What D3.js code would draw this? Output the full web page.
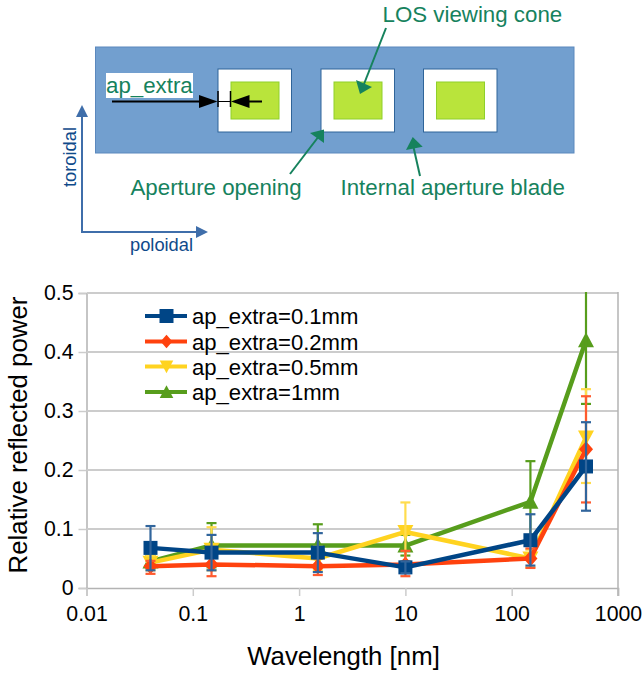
<!DOCTYPE html>
<html><head><meta charset="utf-8">
<script src="https://cdn.jsdelivr.net/npm/d3@7/dist/d3.min.js"></script>
<style>html,body{margin:0;background:#fff}svg{display:block}text{font-family:"Liberation Sans",Arial,sans-serif}</style>
</head><body><svg id="c" width="644" height="675"></svg>
<script>
const wavelengths=[0.04,0.15,1.5,10,150,500];
const names=["ap_extra=0.1mm","ap_extra=0.2mm","ap_extra=0.5mm","ap_extra=1mm"];
const colors=["#004586","#ff420e","#ffd320","#579d1c"];
const errColors=["#31659c","#ff5a2e","#ffdc4d","#579d1c"];
const symbols=["square","diamond","down","up"];
const v01=[0.068,0.060,0.060,0.035,0.081,0.206];
const v02=[0.037,0.040,0.037,0.040,0.050,0.235];
const v05=[0.043,0.065,0.050,0.095,0.050,0.255];
const v1=[0.045,0.072,0.072,0.072,0.146,0.420];
const hi01=[0.105,0.090,0.093,0.045,0.125,0.281];
const lo01=[0.030,0.030,0.027,0.025,0.038,0.131];
const hi02=[0.046,0.055,0.050,0.063,0.067,0.325];
const lo02=[0.024,0.020,0.022,0.020,0.034,0.145];
const hi05=[0.055,0.103,0.070,0.145,0.065,0.337];
const lo05=[0.030,0.030,0.030,0.045,0.035,0.178];
const hi1=[0.055,0.110,0.108,0.090,0.215,0.600];
const lo1=[0.035,0.035,0.036,0.055,0.077,0.312];
const xTicks=[0.01,0.1,1,10,100,1000];
const yTicks=[0,0.1,0.2,0.3,0.4,0.5];
const xTitle="Wavelength [nm]", yTitle="Relative reflected power";

const svg=d3.select("#c");
const teal="#16825d", navy="#0f4a8a", steel="#3f6eaa";

// ---- schematic ----
const g=svg.append("g");
g.append("rect").attr("x",95.5).attr("y",47).attr("width",478.5).attr("height",106)
 .attr("fill","#729fcf").attr("stroke","#5b88bd").attr("stroke-width",1);
[218,321,423.5].forEach(x=>{
  g.append("rect").attr("x",x).attr("y",69).attr("width",73.5).attr("height",63)
   .attr("fill","#fff").attr("stroke","#2f6499").attr("stroke-width",1);
  g.append("rect").attr("x",x+13).attr("y",82).attr("width",48).attr("height",37)
   .attr("fill","#b9e43b").attr("stroke","#8fd02b").attr("stroke-width",1);
});
g.append("rect").attr("x",106).attr("y",73).attr("width",87).attr("height",25).attr("fill","#fff");
const label=(t,x,y,fs,c)=>g.append("text").text(t).attr("x",x).attr("y",y).attr("font-size",fs).attr("fill",c);
label("ap_extra",106,93,22.3,teal);
label("LOS viewing cone",382.5,22,22.3,teal);
label("Aperture opening",130.5,195,22.3,teal);
label("Internal aperture blade",340.5,195,22.3,teal);
label("poloidal",130,251,18.3,navy);
g.append("text").text("toroidal").attr("transform","translate(76,187) rotate(-90)").attr("font-size",18.3).attr("fill",navy);
const ln=(x1,y1,x2,y2,c,w)=>g.append("line").attr("x1",x1).attr("y1",y1).attr("x2",x2).attr("y2",y2).attr("stroke",c).attr("stroke-width",w);
const tri=(p,c)=>g.append("polygon").attr("points",p).attr("fill",c);
ln(112,101.5,205,101.5,"#000",2); tri("199,95 217.5,101.5 199,108","#000");
ln(218,91,218,107,"#000",1.5); ln(230.5,91,230.5,107,"#000",1.5);
ln(218,101.5,231,101.5,"#000",1);
ln(240,101.5,262,101.5,"#000",2); tri("231,101.5 249.5,95 249.5,108","#000");
ln(82,232,82,112,steel,2); tri("76,117 82,105 88,117",steel);
ln(81,232,200,232,steel,2); tri("196,226 208,232 196,238",steel);
ln(290,174,319,136,teal,2); tri("324,129.5 310,133 324,143",teal);
ln(386,28,364,84,teal,2); tri("356,80 372,87 360,94",teal);
ln(420,176,413,145,teal,2); tri("412.7,137 406,150 422.7,146.7",teal);

// ---- chart ----
const x=d3.scaleLog().domain([0.01,1000]).range([86.5,618]);
const y=d3.scaleLinear().domain([0,0.5]).range([588,293]);
const gridC="#cccccc", axisC="#b3b3b3";
const yAxis=svg.append("g").attr("transform","translate(86.5,0)")
  .call(d3.axisLeft(y).tickValues(yTicks).tickSize(8).tickPadding(5).tickFormat(d3.format(".1~f")));
const xAxis=svg.append("g").attr("transform","translate(0,588)")
  .call(d3.axisBottom(x).tickValues(xTicks).tickSize(8).tickPadding(10).tickFormat(d=>String(d)));
[yAxis,xAxis].forEach(a=>{a.selectAll("path").attr("stroke",axisC).attr("stroke-width",1.5);
  a.selectAll("line").attr("stroke",gridC).attr("stroke-width",1.5);
  a.selectAll("text").attr("font-size",21.3).attr("fill","#000").style("font-family",'"Liberation Sans"');});
svg.append("g").selectAll("line").data(yTicks.filter(d=>d>0)).join("line")
  .attr("x1",87).attr("x2",618).attr("y1",d=>y(d)).attr("y2",d=>y(d)).attr("stroke",gridC).attr("stroke-width",2);
svg.append("line").attr("x1",618).attr("x2",618).attr("y1",292).attr("y2",596).attr("stroke",axisC).attr("stroke-width",1.5);
svg.append("defs").append("clipPath").attr("id","pc").append("rect").attr("x",86).attr("y",292).attr("width",533).attr("height",310);

svg.append("text").text(xTitle).attr("x",343.5).attr("y",665).attr("text-anchor","middle").attr("font-size",25.8);
svg.append("text").text(yTitle).attr("transform","translate(27,435) rotate(-90)").attr("text-anchor","middle").attr("font-size",25.8);

const marker=(sel,kind,c,k=1)=>{
  const p={square:"M-7,-7H7V7H-7Z",diamond:"M0,-8L7,0L0,8L-7,0Z",down:"M-8,-7H8L0,8Z",up:"M-8,7H8L0,-8Z"}[kind];
  sel.append("path").attr("d",p).attr("fill",c).attr("transform",`scale(${k})`);
};
const series=[
 {i:3,v:v1,hi:hi1,lo:lo1},{i:2,v:v05,hi:hi05,lo:lo05},{i:1,v:v02,hi:hi02,lo:lo02},{i:0,v:v01,hi:hi01,lo:lo01}];
const line=d3.line().x((d,i)=>x(wavelengths[i])).y(d=>y(d));
series.forEach(s=>{
  const c=colors[s.i], e=errColors[s.i];
  const sg=svg.append("g");
  sg.append("path").attr("d",line(s.v)).attr("fill","none").attr("stroke",c).attr("stroke-width",4.5).attr("stroke-linejoin","round");
  wavelengths.forEach((w,i)=>marker(sg.append("g").attr("transform",`translate(${x(w)},${y(s.v[i])})`),symbols[s.i],c));
  const eg=sg.append("g").attr("clip-path","url(#pc)").attr("stroke",e).attr("stroke-width",2.2);
  wavelengths.forEach((w,i)=>{
    const X=x(w);
    eg.append("line").attr("x1",X).attr("x2",X).attr("y1",y(s.hi[i])).attr("y2",y(s.lo[i]));
    [s.hi[i],s.lo[i]].forEach(val=>eg.append("line").attr("x1",X-5).attr("x2",X+5).attr("y1",y(val)).attr("y2",y(val)));
  });
});

// ---- legend ----
const legY=[316,341.5,366.5,392];
names.forEach((n,i)=>{
  const lg=svg.append("g").attr("transform",`translate(0,${legY[i]})`);
  lg.append("line").attr("x1",145).attr("x2",187).attr("stroke",colors[i]).attr("stroke-width",4);
  marker(lg.append("g").attr("transform","translate(166.5,0)"),symbols[i],colors[i],i==0?1:0.85);
  lg.append("text").text(n).attr("x",192).attr("y",8).attr("font-size",22.1);
});
</script></body></html>
